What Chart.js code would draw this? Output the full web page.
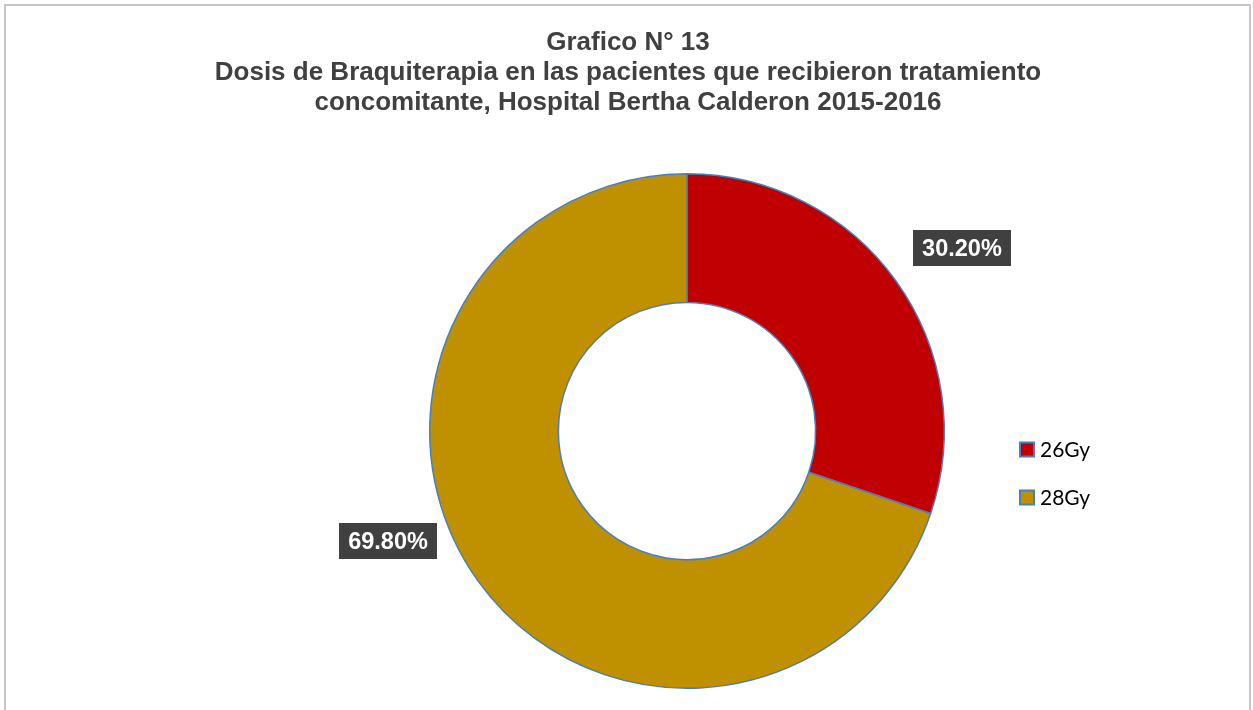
<!DOCTYPE html>
<html>
<head>
<meta charset="utf-8">
<script src="https://cdn.jsdelivr.net/npm/chart.js@4.4.1/dist/chart.umd.min.js"></script>
<style>
html,body{margin:0;padding:0;background:#fff;}
#wrap{width:1253px;height:710px;position:relative;}
</style>
</head>
<body>
<div id="wrap"><canvas id="c" width="1253" height="710"></canvas></div>
<script>
const titleLines = ["Grafico N° 13", "Dosis de Braquiterapia en las pacientes que recibieron tratamiento", "concomitante, Hospital Bertha Calderon 2015-2016"];
const categories = ["26Gy", "28Gy"];
const values = [30.2, 69.8];
const valueLabels = ["30.20%", "69.80%"];
const colors = ["#C00000", "#BF9000"];
const labelOffsetX = [1.315, 1.43];
const labelOffsetY = [1.22, 0.735];

const decor = {
  id: 'decor',
  beforeDraw(chart) {
    const ctx = chart.ctx;
    ctx.save();
    ctx.fillStyle = '#fff';
    ctx.fillRect(0, 0, chart.width, chart.height);
    ctx.strokeStyle = '#c6c6c6';
    ctx.lineWidth = 2;
    ctx.beginPath();
    ctx.moveTo(5, chart.height + 2);
    ctx.lineTo(5, 5);
    ctx.lineTo(chart.width - 3, 5);
    ctx.lineTo(chart.width - 3, chart.height + 2);
    ctx.stroke();
    // title
    ctx.fillStyle = '#404040';
    ctx.font = 'bold 26px "Liberation Sans", Arial, sans-serif';
    ctx.textAlign = 'center';
    ctx.textBaseline = 'middle';
    titleLines.forEach((t, i) => ctx.fillText(t, 628, 43 + i * 30));
    ctx.restore();
  },
  afterDraw(chart) {
    const ctx = chart.ctx;
    const meta = chart.getDatasetMeta(0);
    ctx.save();
    // data labels
    ctx.font = 'bold 23.5px "Liberation Sans", Arial, sans-serif';
    ctx.textAlign = 'center';
    ctx.textBaseline = 'middle';
    meta.data.forEach((arc, i) => {
      const mid = (arc.startAngle + arc.endAngle) / 2;
      const cx = arc.x + Math.cos(mid) * arc.outerRadius * labelOffsetX[i];
      const cy = arc.y + Math.sin(mid) * arc.outerRadius * labelOffsetY[i];
      const w = 98, h = 36;
      ctx.fillStyle = '#404040';
      ctx.fillRect(Math.round(cx - w / 2), Math.round(cy - h / 2), w, h);
      ctx.fillStyle = '#ffffff';
      ctx.fillText(valueLabels[i], cx, cy + 1);
    });
    // legend
    ctx.font = '21px Lato, "Open Sans", sans-serif';
    ctx.textAlign = 'left';
    categories.forEach((c, i) => {
      const y = 449.5 + i * 48;
      ctx.fillStyle = colors[i];
      ctx.fillRect(1020, y - 7, 14, 14);
      ctx.strokeStyle = '#4A7EBB';
      ctx.lineWidth = 2;
      ctx.strokeRect(1020, y - 7, 14, 14);
      ctx.fillStyle = '#000';
      ctx.fillText(c, 1040, y + 1);
    });
    ctx.restore();
  }
};

new Chart(document.getElementById('c'), {
  type: 'doughnut',
  data: {
    labels: categories,
    datasets: [{
      data: values,
      backgroundColor: colors,
      borderColor: '#4A7EBB',
      borderWidth: 1.5,
      hoverOffset: 0
    }]
  },
  options: {
    responsive: false,
    animation: false,
    cutout: '50%',
    layout: { padding: { top: 173, bottom: 21, left: 429, right: 308 } },
    plugins: {
      legend: { display: false },
      title: { display: false },
      tooltip: { enabled: false }
    }
  },
  plugins: [decor]
});
</script>
</body>
</html>
